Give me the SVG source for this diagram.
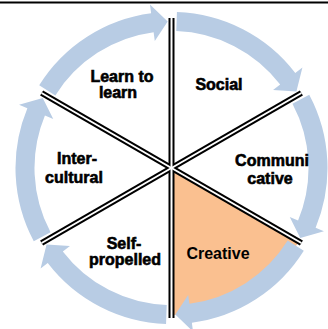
<svg xmlns="http://www.w3.org/2000/svg" xmlns:xlink="http://www.w3.org/1999/xlink" width="328" height="329" viewBox="0 0 328 329">
  <style>
    .lbl { font-family: "Liberation Sans", Arial, sans-serif; font-weight: bold; font-size: 16px; fill: #000; stroke: #000; stroke-width: 0.6px; text-anchor: middle; }
    .lbl2 { font-family: "Liberation Sans", Arial, sans-serif; font-weight: bold; font-size: 16px; fill: #000; text-anchor: middle; }
    .arrow { fill: #B8CCE4; }
    .div-b { stroke: #000; stroke-width: 6; fill: none; }
    .div-w { stroke: #fff; stroke-width: 2; fill: none; }
  </style>
  <defs>
    <path id="arc" d="M 5.444 -155.905 A 156 156 0 0 1 123.763 -94.967 L 130.903 -100.446 L 124.912 -76.546 L 101.549 -77.921 L 108.689 -83.400 A 137 137 0 0 0 4.781 -136.917 Z"/>
    <line id="spoke" x1="0" y1="0" x2="0" y2="-150"/>
  </defs>
  <rect x="0" y="0" width="328" height="329" fill="#fff"/>
  <rect x="0" y="1.5" width="328" height="2" fill="#000"/>

  <g id="seg-creative-fill">
    <path d="M 171.5 168 L 298.8 241.5 A 147 147 0 0 1 171.5 315 Z" fill="#FAC090"/>
  </g>

  <g id="connectors">
    <g transform="translate(171.5,168)">
      <use xlink:href="#arc" class="arrow"/>
      <use xlink:href="#arc" class="arrow" transform="rotate(60)"/>
      <use xlink:href="#arc" class="arrow" transform="rotate(120)"/>
      <use xlink:href="#arc" class="arrow" transform="rotate(180)"/>
      <use xlink:href="#arc" class="arrow" transform="rotate(240)"/>
      <use xlink:href="#arc" class="arrow" transform="rotate(300)"/>
    </g>
  </g>

  <g id="dividers" transform="translate(171.5,168)">
    <use xlink:href="#spoke" class="div-b"/>
    <use xlink:href="#spoke" class="div-b" transform="rotate(60)"/>
    <use xlink:href="#spoke" class="div-b" transform="rotate(120)"/>
    <use xlink:href="#spoke" class="div-b" transform="rotate(180)"/>
    <use xlink:href="#spoke" class="div-b" transform="rotate(240)"/>
    <use xlink:href="#spoke" class="div-b" transform="rotate(300)"/>
    <use xlink:href="#spoke" class="div-w"/>
    <use xlink:href="#spoke" class="div-w" transform="rotate(60)"/>
    <use xlink:href="#spoke" class="div-w" transform="rotate(120)"/>
    <use xlink:href="#spoke" class="div-w" transform="rotate(180)"/>
    <use xlink:href="#spoke" class="div-w" transform="rotate(240)"/>
    <use xlink:href="#spoke" class="div-w" transform="rotate(300)"/>
  </g>

  <g id="seg-learn">
    <text class="lbl" x="122" y="82">Learn to</text>
    <text class="lbl" x="118" y="98">learn</text>
  </g>
  <g id="seg-social">
    <text class="lbl" x="219" y="90">Social</text>
  </g>
  <g id="seg-communicative">
    <text class="lbl" x="272" y="166">Communi</text>
    <text class="lbl" x="270" y="184">cative</text>
  </g>
  <g id="seg-creative">
    <text class="lbl2" x="218" y="259">Creative</text>
  </g>
  <g id="seg-self">
    <text class="lbl" x="124" y="249">Self-</text>
    <text class="lbl" x="125" y="265">propelled</text>
  </g>
  <g id="seg-intercultural">
    <text class="lbl" x="77" y="164">Inter-</text>
    <text class="lbl" x="74" y="183">cultural</text>
  </g>
</svg>
